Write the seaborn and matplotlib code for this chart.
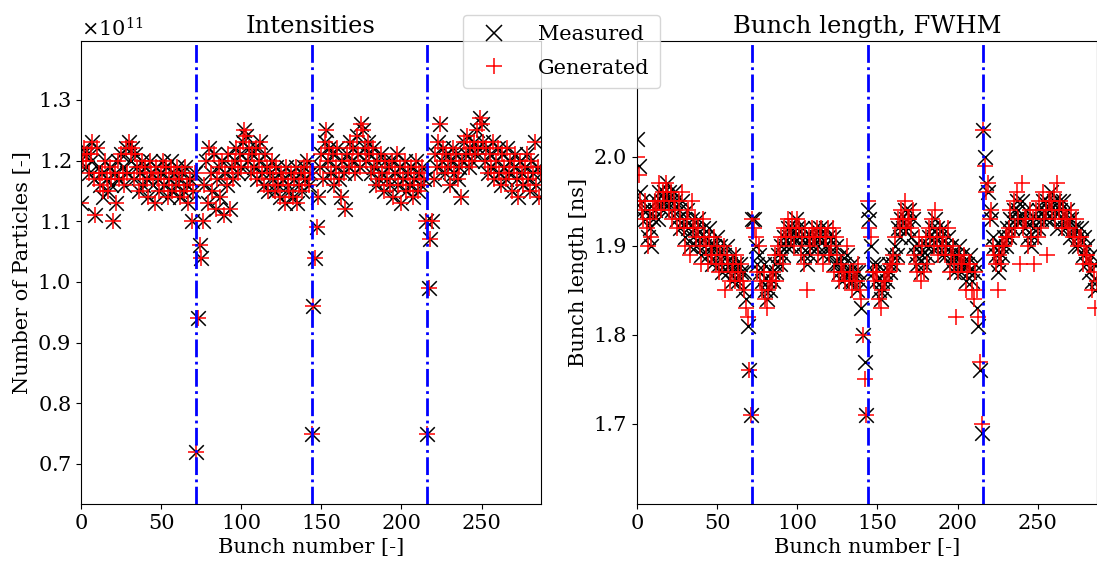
import numpy as np
import matplotlib
matplotlib.use("Agg")
import matplotlib.pyplot as plt
import seaborn as sns
from matplotlib.lines import Line2D
from matplotlib.ticker import ScalarFormatter

# bunch-by-bunch values, 4 trains of 72 bunches
intensity_measured = [
    # train 1
    1.13, 1.21, 1.22, 1.19, 1.21, 1.18, 1.20, 1.23, 1.17, 1.11, 1.22, 1.19,
    1.16, 1.18, 1.14, 1.20, 1.17, 1.15, 1.19, 1.16, 1.10, 1.18, 1.13, 1.20,
    1.17, 1.21, 1.19, 1.16, 1.22, 1.18, 1.23, 1.20, 1.22, 1.17, 1.21, 1.19,
    1.15, 1.18, 1.20, 1.16, 1.19, 1.17, 1.14, 1.20, 1.18, 1.16, 1.13, 1.19,
    1.17, 1.15, 1.18, 1.20, 1.16, 1.19, 1.14, 1.17, 1.20, 1.15, 1.18, 1.16,
    1.19, 1.17, 1.14, 1.18, 1.15, 1.19, 1.16, 1.13, 1.17, 1.10, 1.15, 1.18,
    # train 2
    0.72, 0.94, 1.06, 1.04, 1.10, 1.16, 1.20, 1.13, 1.22, 1.18, 1.15, 1.21,
    1.12, 1.17, 1.19, 1.14, 1.20, 1.11, 1.18, 1.16, 1.21, 1.12, 1.19, 1.17,
    1.20, 1.22, 1.18, 1.21, 1.19, 1.23, 1.25, 1.24, 1.20, 1.22, 1.18, 1.21,
    1.19, 1.22, 1.17, 1.20, 1.23, 1.18, 1.16, 1.21, 1.19, 1.15, 1.18, 1.20,
    1.17, 1.15, 1.19, 1.16, 1.14, 1.18, 1.17, 1.13, 1.19, 1.16, 1.15, 1.18,
    1.14, 1.17, 1.19, 1.13, 1.16, 1.18, 1.15, 1.19, 1.17, 1.20, 1.16, 1.18,
    # train 3
    0.75, 0.96, 1.04, 1.09, 1.14, 1.19, 1.21, 1.17, 1.23, 1.25, 1.20, 1.22,
    1.18, 1.21, 1.16, 1.19, 1.22, 1.17, 1.14, 1.20, 1.18, 1.12, 1.21, 1.19,
    1.23, 1.20, 1.22, 1.18, 1.24, 1.21, 1.19, 1.26, 1.25, 1.22, 1.20, 1.23,
    1.21, 1.18, 1.22, 1.19, 1.16, 1.20, 1.17, 1.21, 1.18, 1.15, 1.20, 1.17,
    1.19, 1.16, 1.20, 1.14, 1.18, 1.21, 1.16, 1.19, 1.13, 1.17, 1.20, 1.15,
    1.18, 1.16, 1.19, 1.14, 1.17, 1.20, 1.15, 1.18, 1.16, 1.19, 1.17, 1.10,
    # train 4
    0.75, 0.99, 1.07, 1.10, 1.17, 1.21, 1.19, 1.23, 1.26, 1.20, 1.22, 1.18,
    1.21, 1.19, 1.16, 1.20, 1.22, 1.18, 1.21, 1.17, 1.19, 1.14, 1.20, 1.23,
    1.21, 1.24, 1.19, 1.22, 1.20, 1.23, 1.21, 1.25, 1.22, 1.27, 1.26, 1.23,
    1.20, 1.22, 1.18, 1.21, 1.19, 1.23, 1.17, 1.20, 1.22, 1.18, 1.16, 1.21,
    1.19, 1.17, 1.22, 1.18, 1.20, 1.15, 1.19, 1.21, 1.17, 1.14, 1.20, 1.18,
    1.16, 1.19, 1.21, 1.17, 1.15, 1.20, 1.18, 1.23, 1.16, 1.19, 1.14, 1.18,
]

intensity_generated = [
    1.13, 1.20, 1.22, 1.20, 1.21, 1.18, 1.21, 1.23, 1.17, 1.11, 1.22, 1.18,
    1.16, 1.18, 1.15, 1.20, 1.17, 1.15, 1.19, 1.17, 1.10, 1.18, 1.13, 1.20,
    1.17, 1.21, 1.18, 1.16, 1.22, 1.18, 1.23, 1.21, 1.22, 1.17, 1.21, 1.19,
    1.15, 1.18, 1.20, 1.16, 1.19, 1.17, 1.14, 1.20, 1.18, 1.17, 1.13, 1.19,
    1.17, 1.15, 1.18, 1.20, 1.16, 1.19, 1.14, 1.17, 1.19, 1.15, 1.18, 1.16,
    1.19, 1.17, 1.14, 1.18, 1.15, 1.19, 1.16, 1.13, 1.17, 1.10, 1.15, 1.18,
    0.72, 0.94, 1.06, 1.04, 1.10, 1.16, 1.20, 1.13, 1.22, 1.18, 1.15, 1.21,
    1.12, 1.17, 1.19, 1.14, 1.20, 1.11, 1.18, 1.16, 1.21, 1.12, 1.19, 1.17,
    1.20, 1.22, 1.18, 1.21, 1.19, 1.23, 1.25, 1.24, 1.20, 1.22, 1.18, 1.21,
    1.19, 1.22, 1.17, 1.20, 1.23, 1.18, 1.16, 1.21, 1.19, 1.15, 1.18, 1.20,
    1.17, 1.15, 1.19, 1.16, 1.14, 1.18, 1.17, 1.13, 1.19, 1.16, 1.15, 1.18,
    1.14, 1.17, 1.19, 1.13, 1.16, 1.18, 1.15, 1.19, 1.17, 1.20, 1.16, 1.18,
    0.75, 0.96, 1.04, 1.09, 1.14, 1.19, 1.21, 1.17, 1.23, 1.25, 1.20, 1.22,
    1.18, 1.21, 1.16, 1.19, 1.22, 1.17, 1.14, 1.20, 1.18, 1.12, 1.21, 1.19,
    1.23, 1.20, 1.22, 1.18, 1.24, 1.21, 1.19, 1.26, 1.25, 1.22, 1.20, 1.23,
    1.21, 1.18, 1.22, 1.19, 1.16, 1.20, 1.17, 1.21, 1.18, 1.15, 1.20, 1.17,
    1.19, 1.16, 1.20, 1.14, 1.18, 1.21, 1.16, 1.19, 1.13, 1.17, 1.20, 1.15,
    1.18, 1.16, 1.19, 1.14, 1.17, 1.20, 1.15, 1.18, 1.16, 1.19, 1.17, 1.10,
    0.75, 0.99, 1.07, 1.10, 1.17, 1.21, 1.19, 1.23, 1.26, 1.20, 1.22, 1.18,
    1.21, 1.19, 1.16, 1.20, 1.22, 1.18, 1.21, 1.17, 1.19, 1.14, 1.20, 1.23,
    1.21, 1.24, 1.19, 1.22, 1.20, 1.23, 1.21, 1.25, 1.22, 1.27, 1.26, 1.23,
    1.20, 1.22, 1.18, 1.21, 1.19, 1.23, 1.17, 1.20, 1.22, 1.18, 1.16, 1.21,
    1.19, 1.17, 1.22, 1.18, 1.20, 1.15, 1.19, 1.21, 1.17, 1.14, 1.20, 1.18,
    1.16, 1.19, 1.21, 1.17, 1.15, 1.20, 1.18, 1.23, 1.16, 1.19, 1.14, 1.18,
]

length_measured = [
    2.02, 1.99, 1.96, 1.95, 1.94, 1.93, 1.94, 1.91, 1.92, 1.90, 1.93, 1.94,
    1.95, 1.93, 1.96, 1.95, 1.94, 1.96, 1.95, 1.97, 1.96, 1.95, 1.94, 1.96,
    1.95, 1.93, 1.94, 1.92, 1.95, 1.93, 1.91, 1.94, 1.92, 1.90, 1.93, 1.91,
    1.92, 1.90, 1.93, 1.91, 1.89, 1.92, 1.90, 1.91, 1.89, 1.92, 1.90, 1.88,
    1.90, 1.89, 1.91, 1.88, 1.90, 1.87, 1.89, 1.88, 1.90, 1.87, 1.88, 1.86,
    1.89, 1.87, 1.88, 1.86, 1.88, 1.87, 1.85, 1.87, 1.84, 1.81, 1.76, 1.71,
    1.93, 1.93, 1.90, 1.88, 1.89, 1.87, 1.86, 1.88, 1.85, 1.84, 1.86, 1.85,
    1.87, 1.86, 1.88, 1.87, 1.89, 1.88, 1.90, 1.89, 1.91, 1.90, 1.92, 1.91,
    1.90, 1.92, 1.91, 1.93, 1.92, 1.91, 1.90, 1.92, 1.89, 1.91, 1.88, 1.90,
    1.89, 1.91, 1.90, 1.92, 1.91, 1.90, 1.92, 1.91, 1.89, 1.90, 1.92, 1.91,
    1.90, 1.89, 1.91, 1.88, 1.90, 1.88, 1.87, 1.89, 1.86, 1.88, 1.87, 1.89,
    1.87, 1.86, 1.88, 1.86, 1.87, 1.85, 1.87, 1.86, 1.83, 1.80, 1.77, 1.71,
    1.94, 1.93, 1.90, 1.88, 1.87, 1.86, 1.88, 1.85, 1.84, 1.86, 1.85, 1.87,
    1.86, 1.88, 1.87, 1.89, 1.88, 1.90, 1.89, 1.92, 1.91, 1.93, 1.92, 1.94,
    1.93, 1.92, 1.94, 1.91, 1.93, 1.90, 1.89, 1.88, 1.90, 1.87, 1.89, 1.88,
    1.90, 1.89, 1.91, 1.90, 1.92, 1.91, 1.93, 1.92, 1.90, 1.91, 1.89, 1.92,
    1.90, 1.89, 1.91, 1.88, 1.90, 1.89, 1.87, 1.89, 1.88, 1.90, 1.87, 1.89,
    1.88, 1.86, 1.88, 1.87, 1.89, 1.86, 1.87, 1.88, 1.83, 1.81, 1.76, 1.69,
    2.03, 2.00, 1.97, 1.96, 1.94, 1.93, 1.91, 1.90, 1.89, 1.87, 1.88, 1.90,
    1.89, 1.91, 1.90, 1.92, 1.91, 1.93, 1.92, 1.94, 1.93, 1.95, 1.94, 1.93,
    1.95, 1.93, 1.92, 1.94, 1.91, 1.93, 1.90, 1.92, 1.91, 1.93, 1.92, 1.94,
    1.93, 1.95, 1.94, 1.93, 1.95, 1.94, 1.96, 1.93, 1.95, 1.94, 1.92, 1.95,
    1.94, 1.93, 1.95, 1.92, 1.94, 1.93, 1.91, 1.93, 1.92, 1.90, 1.92, 1.91,
    1.90, 1.92, 1.89, 1.91, 1.88, 1.90, 1.87, 1.89, 1.86, 1.88, 1.85, 1.86,
]

length_generated = [
    2.00, 1.98, 1.95, 1.94, 1.93, 1.95, 1.92, 1.90, 1.93, 1.91, 1.94, 1.95,
    1.94, 1.95, 1.97, 1.94, 1.96, 1.95, 1.97, 1.96, 1.94, 1.96, 1.93, 1.95,
    1.94, 1.92, 1.95, 1.93, 1.96, 1.92, 1.90, 1.93, 1.94, 1.89, 1.95, 1.92,
    1.93, 1.91, 1.92, 1.90, 1.88, 1.93, 1.91, 1.90, 1.88, 1.91, 1.89, 1.89,
    1.91, 1.88, 1.90, 1.87, 1.89, 1.88, 1.90, 1.85, 1.89, 1.88, 1.86, 1.87,
    1.88, 1.86, 1.89, 1.87, 1.86, 1.88, 1.86, 1.85, 1.83, 1.82, 1.76, 1.71,
    1.93, 1.92, 1.91, 1.87, 1.90, 1.86, 1.85, 1.87, 1.84, 1.83, 1.85, 1.86,
    1.86, 1.87, 1.89, 1.86, 1.90, 1.89, 1.91, 1.88, 1.92, 1.91, 1.93, 1.92,
    1.91, 1.93, 1.90, 1.92, 1.93, 1.92, 1.89, 1.91, 1.88, 1.92, 1.85, 1.91,
    1.90, 1.92, 1.91, 1.91, 1.92, 1.89, 1.91, 1.92, 1.88, 1.91, 1.91, 1.92,
    1.89, 1.90, 1.92, 1.87, 1.91, 1.89, 1.86, 1.88, 1.87, 1.87, 1.86, 1.90,
    1.86, 1.87, 1.85, 1.87, 1.86, 1.86, 1.88, 1.85, 1.84, 1.80, 1.75, 1.71,
    1.95, 1.92, 1.91, 1.87, 1.86, 1.87, 1.87, 1.84, 1.83, 1.85, 1.86, 1.86,
    1.87, 1.87, 1.88, 1.88, 1.89, 1.91, 1.88, 1.93, 1.92, 1.94, 1.93, 1.95,
    1.92, 1.93, 1.93, 1.92, 1.94, 1.89, 1.88, 1.87, 1.91, 1.86, 1.90, 1.87,
    1.91, 1.88, 1.92, 1.91, 1.93, 1.90, 1.94, 1.91, 1.89, 1.92, 1.90, 1.91,
    1.89, 1.90, 1.92, 1.87, 1.89, 1.90, 1.88, 1.82, 1.87, 1.89, 1.88, 1.88,
    1.89, 1.85, 1.87, 1.88, 1.88, 1.85, 1.84, 1.87, 1.85, 1.82, 1.77, 1.70,
    2.03, 1.99, 1.96, 1.97, 1.93, 1.94, 1.90, 1.89, 1.88, 1.85, 1.89, 1.88,
    1.90, 1.90, 1.91, 1.91, 1.92, 1.94, 1.91, 1.95, 1.92, 1.96, 1.93, 1.88,
    1.97, 1.92, 1.93, 1.93, 1.90, 1.94, 1.91, 1.93, 1.88, 1.94, 1.91, 1.95,
    1.92, 1.96, 1.93, 1.94, 1.89, 1.95, 1.95, 1.94, 1.96, 1.93, 1.97, 1.94,
    1.95, 1.92, 1.94, 1.93, 1.93, 1.92, 1.92, 1.94, 1.91, 1.91, 1.93, 1.90,
    1.91, 1.91, 1.88, 1.90, 1.89, 1.89, 1.88, 1.88, 1.85, 1.87, 1.83, 1.86,
]

train_starts = [72, 144, 216]

sns.set_style("ticks")
plt.rcParams["font.family"] = ["DejaVu Serif"]
plt.rcParams["mathtext.fontset"] = "dejavuserif"
plt.rcParams["font.size"] = 14
for key in ["text.color", "axes.labelcolor", "xtick.color", "ytick.color",
            "axes.edgecolor"]:
    plt.rcParams[key] = "black"

bunch = np.arange(len(intensity_measured))

fig = plt.figure(figsize=(10.97, 5.65), dpi=100)
ax1 = fig.add_axes([0.0738, 0.108, 0.4193, 0.8195])
ax2 = fig.add_axes([0.5807, 0.108, 0.4193, 0.8195])


def draw_panel(ax, measured, generated):
    sns.scatterplot(x=bunch, y=measured, ax=ax, marker="x", color="black",
                    s=110, linewidth=1.1, legend=False)
    sns.scatterplot(x=bunch, y=generated, ax=ax, marker="+", color="red",
                    s=130, linewidth=1.1, legend=False)
    for x0 in train_starts:
        ax.axvline(x0, color="blue", linestyle="-.", linewidth=2)
    ax.set_xlim(0, 287)
    ax.set_xlabel("Bunch number [-]", fontsize=15)
    ax.tick_params(labelsize=15, color="black")


draw_panel(ax1, np.array(intensity_measured) * 1e11,
           np.array(intensity_generated) * 1e11)
ax1.set_ylim(0.634e11, 1.397e11)
ax1.set_yticks(np.arange(0.7, 1.31, 0.1) * 1e11)
fmt = ScalarFormatter(useMathText=True)
ax1.yaxis.set_major_formatter(fmt)
ax1.yaxis.get_offset_text().set_fontsize(15)
ax1.set_ylabel("Number of Particles [-]", fontsize=15)
ax1.set_title("Intensities", fontsize=17.5)

draw_panel(ax2, length_measured, length_generated)
ax2.set_ylim(1.61, 2.13)
ax2.set_yticks([1.7, 1.8, 1.9, 2.0])
ax2.set_ylabel("Bunch length [ns]", fontsize=15)
ax2.set_title("Bunch length, FWHM", fontsize=17.5)

handles = [
    Line2D([], [], marker="x", color="black", linestyle="none",
           markersize=11, markeredgewidth=1.1),
    Line2D([], [], marker="+", color="red", linestyle="none",
           markersize=12, markeredgewidth=1.1),
]
fig.legend(handles, ["Measured", "Generated"], loc="upper center",
           bbox_to_anchor=(0.512, 0.974), borderaxespad=0, fontsize=15,
           framealpha=0.8, borderpad=0.5, labelspacing=0.7,
           handletextpad=1.1)

fig.savefig("out.png", dpi=100)
